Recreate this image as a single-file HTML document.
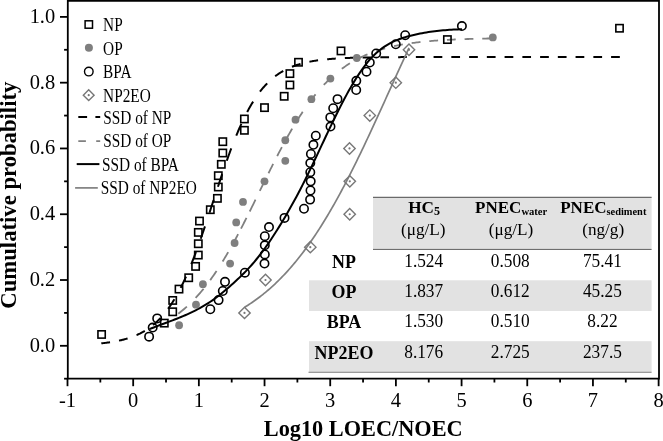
<!DOCTYPE html>
<html><head><meta charset="utf-8"><style>html,body{margin:0;padding:0;background:#fff;overflow:hidden}svg{display:block}</style></head>
<body><svg style="will-change:transform" width="663" height="441" viewBox="0 0 663 441">
<rect x="0" y="0" width="663" height="441" fill="#fff"/>
<rect x="373" y="197" width="278.6" height="51.2" fill="#e2e2e2"/>
<rect x="309" y="280.3" width="342.6" height="30.7" fill="#e2e2e2"/>
<rect x="309" y="341.2" width="342.6" height="30.6" fill="#e2e2e2"/>
<line x1="373" y1="197.3" x2="651.6" y2="197.3" stroke="#6a6a6a" stroke-width="1.3"/>
<line x1="373" y1="249.4" x2="651.6" y2="249.4" stroke="#6e6e6e" stroke-width="1.2"/>
<line x1="308.5" y1="372.3" x2="651.6" y2="372.3" stroke="#7a7a7a" stroke-width="1.1"/>
<path d="M101.30 343.35 L101.99 343.28 L102.68 343.20 L103.38 343.12 L104.07 343.04 L104.76 342.96 L105.45 342.88 L106.14 342.79 L106.83 342.70 L107.53 342.61 L108.22 342.52 L108.91 342.42 L109.60 342.32 L110.03 342.26 M119.03 340.64 L119.72 340.48 L120.41 340.33 L121.10 340.17 L121.79 340.00 L122.48 339.83 L123.18 339.66 L123.87 339.48 L124.56 339.30 L125.25 339.11 L125.94 338.91 L126.63 338.71 L127.33 338.50 L127.59 338.42 M136.49 335.15 L137.18 334.85 L137.87 334.53 L138.57 334.21 L139.26 333.88 L139.95 333.54 L140.64 333.18 L141.33 332.82 L142.02 332.46 L142.72 332.08 L143.41 331.69 L144.10 331.29 L144.79 330.87 L144.79 330.87 M153.09 325.01 L153.70 324.50 L154.30 323.99 L154.91 323.47 L155.51 322.93 L156.12 322.38 L156.72 321.82 L157.33 321.25 L157.93 320.66 L158.54 320.07 L159.14 319.46 L159.75 318.83 L160.36 318.20 L160.70 317.83 M168.05 308.87 L168.57 308.15 L169.09 307.42 L169.61 306.68 L170.13 305.93 L170.64 305.17 L171.16 304.39 L171.68 303.60 L172.20 302.80 L172.72 301.98 L173.24 301.16 L173.76 300.32 L174.28 299.46 L174.45 299.18 M180.67 287.87 L181.11 287.02 L181.54 286.15 L181.97 285.27 L182.40 284.39 L182.84 283.50 L183.27 282.59 L183.70 281.68 L184.13 280.76 L184.57 279.83 L185.00 278.88 L185.43 277.93 L185.86 276.97 L186.04 276.59 M191.31 264.10 L191.66 263.23 L192.00 262.36 L192.35 261.49 L192.69 260.61 L193.04 259.72 L193.38 258.83 L193.73 257.93 L194.08 257.03 L194.42 256.12 L194.77 255.21 L195.11 254.29 L195.46 253.37 L195.81 252.44 L195.98 251.98 M200.73 238.74 L201.08 237.74 L201.43 236.74 L201.77 235.74 L202.12 234.74 L202.46 233.73 L202.81 232.72 L203.16 231.71 L203.50 230.69 L203.85 229.67 L204.19 228.65 L204.54 227.62 L204.88 226.59 L204.97 226.33 M209.47 212.75 L209.81 211.69 L210.16 210.64 L210.50 209.58 L210.85 208.52 L211.20 207.46 L211.54 206.40 L211.89 205.34 L212.23 204.27 L212.58 203.21 L212.93 202.15 L213.27 201.09 L213.62 200.02 L213.62 200.02 M217.94 186.79 L218.29 185.74 L218.63 184.69 L218.98 183.65 L219.32 182.60 L219.67 181.56 L220.02 180.52 L220.36 179.48 L220.71 178.44 L221.05 177.41 L221.40 176.37 L221.74 175.34 L222.09 174.32 L222.18 174.06 M226.76 160.78 L227.11 159.80 L227.45 158.83 L227.80 157.86 L228.14 156.90 L228.49 155.94 L228.84 154.98 L229.18 154.03 L229.53 153.09 L229.87 152.15 L230.22 151.21 L230.56 150.28 L230.91 149.35 L231.26 148.43 L231.26 148.43 M236.27 135.65 L236.70 134.60 L237.14 133.56 L237.57 132.53 L238.00 131.51 L238.43 130.49 L238.86 129.49 L239.30 128.50 L239.73 127.51 L240.16 126.54 L240.59 125.57 L241.03 124.61 L241.37 123.85 M247.17 112.04 L247.60 111.22 L248.03 110.42 L248.46 109.62 L248.89 108.83 L249.33 108.06 L249.76 107.29 L250.19 106.53 L250.62 105.78 L251.06 105.04 L251.49 104.31 L251.92 103.58 L252.35 102.87 L252.79 102.16 L253.13 101.61 M259.96 91.71 L260.57 90.93 L261.17 90.17 L261.78 89.42 L262.38 88.69 L262.99 87.97 L263.59 87.27 L264.20 86.58 L264.80 85.90 L265.41 85.24 L266.01 84.59 L266.62 83.95 L267.14 83.42 M275.18 76.28 L275.79 75.82 L276.39 75.38 L277.00 74.94 L277.60 74.51 L278.21 74.09 L278.81 73.68 L279.42 73.28 L280.02 72.89 L280.63 72.51 L281.23 72.14 L281.84 71.77 L282.44 71.42 L283.05 71.07 L283.22 70.97 M291.95 66.79 L292.65 66.51 L293.34 66.25 L294.03 65.99 L294.72 65.74 L295.41 65.49 L296.10 65.25 L296.80 65.02 L297.49 64.80 L298.18 64.58 L298.87 64.36 L299.56 64.15 L300.25 63.95 L300.51 63.88 M309.42 61.75 L310.11 61.62 L310.80 61.49 L311.49 61.36 L312.19 61.24 L312.88 61.11 L313.57 61.00 L314.26 60.88 L314.95 60.77 L315.65 60.67 L316.34 60.56 L317.03 60.46 L317.72 60.36 L318.07 60.31 M327.15 59.27 L327.84 59.20 L328.53 59.14 L329.22 59.08 L329.91 59.02 L330.60 58.96 L331.30 58.91 L331.99 58.85 L332.68 58.80 L333.37 58.75 L334.06 58.70 L334.75 58.65 L335.45 58.60 L335.79 58.58 M344.87 58.09 L345.56 58.05 L346.25 58.02 L346.95 58.00 L347.64 57.97 L348.33 57.94 L349.02 57.91 L349.71 57.89 L350.40 57.86 L351.10 57.84 L351.79 57.82 L352.48 57.79 L353.17 57.77 L353.60 57.76 M362.60 57.53 L363.29 57.51 L363.98 57.50 L364.67 57.48 L365.36 57.47 L366.05 57.46 L366.75 57.44 L367.44 57.43 L368.13 57.42 L368.82 57.41 L369.51 57.40 L370.20 57.39 L370.90 57.38 L371.33 57.37 M380.32 57.26 L381.01 57.25 L381.70 57.25 L382.40 57.24 L383.09 57.23 L383.78 57.23 L384.47 57.22 L385.16 57.22 L385.85 57.21 L386.55 57.21 L387.24 57.20 L387.93 57.20 L388.62 57.19 L389.05 57.19 M398.13 57.14 L398.82 57.13 L399.52 57.13 L400.21 57.13 L400.90 57.12 L401.59 57.12 L402.28 57.12 L402.97 57.12 L403.67 57.11 L404.36 57.11 L405.05 57.11 L405.74 57.11 L406.43 57.10 L406.78 57.10 M415.86 57.08 L416.55 57.08 L417.24 57.07 L417.93 57.07 L418.62 57.07 L419.32 57.07 L420.01 57.07 L420.70 57.07 L421.39 57.07 L422.08 57.07 L422.77 57.06 L423.47 57.06 L424.16 57.06 L424.59 57.06 M433.58 57.05 L434.27 57.05 L434.97 57.05 L435.66 57.05 L436.35 57.05 L437.04 57.05 L437.73 57.05 L438.42 57.05 L439.12 57.05 L439.81 57.04 L440.50 57.04 L441.19 57.04 L441.88 57.04 L442.32 57.04 M451.31 57.04 L452.00 57.04 L452.69 57.04 L453.38 57.04 L454.07 57.04 L454.77 57.04 L455.46 57.04 L456.15 57.04 L456.84 57.03 L457.53 57.03 L458.23 57.03 L458.92 57.03 L459.61 57.03 L460.04 57.03 M469.12 57.03 L469.81 57.03 L470.50 57.03 L471.19 57.03 L471.89 57.03 L472.58 57.03 L473.27 57.03 L473.96 57.03 L474.65 57.03 L475.35 57.03 L476.04 57.03 L476.73 57.03 L477.42 57.03 L477.85 57.03 M486.84 57.03 L487.54 57.03 L488.23 57.03 L488.92 57.03 L489.61 57.03 L490.30 57.03 L491.00 57.03 L491.69 57.03 L492.38 57.03 L493.07 57.03 L493.76 57.03 L494.45 57.03 L495.15 57.03 L495.58 57.03 M504.57 57.03 L505.26 57.03 L505.95 57.03 L506.65 57.03 L507.34 57.03 L508.03 57.03 L508.72 57.03 L509.41 57.03 L510.10 57.03 L510.80 57.03 L511.49 57.03 L512.18 57.03 L512.87 57.03 L513.30 57.03 M522.38 57.03 L523.07 57.03 L523.77 57.03 L524.46 57.03 L525.15 57.03 L525.84 57.03 L526.53 57.03 L527.22 57.03 L527.92 57.03 L528.61 57.03 L529.30 57.03 L529.99 57.03 L530.68 57.03 L531.03 57.03 M540.11 57.03 L540.80 57.03 L541.49 57.03 L542.18 57.03 L542.87 57.03 L543.57 57.03 L544.26 57.03 L544.95 57.03 L545.64 57.03 L546.33 57.03 L547.02 57.03 L547.72 57.03 L548.41 57.03 L548.84 57.03 M557.83 57.03 L558.52 57.03 L559.22 57.03 L559.91 57.03 L560.60 57.03 L561.29 57.03 L561.98 57.03 L562.67 57.03 L563.37 57.03 L564.06 57.03 L564.75 57.03 L565.44 57.03 L566.13 57.03 L566.56 57.03 M575.56 57.03 L576.25 57.03 L576.94 57.03 L577.63 57.03 L578.32 57.03 L579.02 57.03 L579.71 57.03 L580.40 57.03 L581.09 57.03 L581.78 57.03 L582.47 57.03 L583.17 57.03 L583.86 57.03 L584.29 57.03 M593.37 57.03 L594.06 57.03 L594.75 57.03 L595.44 57.03 L596.14 57.03 L596.83 57.03 L597.52 57.03 L598.21 57.03 L598.90 57.03 L599.59 57.03 L600.29 57.03 L600.98 57.03 L601.67 57.03 L602.10 57.03 M611.09 57.03 L611.79 57.03 L612.48 57.03 L613.17 57.03 L613.86 57.03 L614.55 57.03 L615.24 57.03 L615.94 57.03 L616.63 57.03 L617.32 57.03 L618.01 57.03 L618.70 57.03 L619.39 57.03 L619.83 57.03 " fill="none" stroke="#000" stroke-width="2"/>
<path d="M178.30 313.73 L179.53 312.78 L180.76 311.81 L181.99 310.81 L183.21 309.78 L184.44 308.73 L185.67 307.66 L186.90 306.55 M195.60 297.94 L196.74 296.70 L197.89 295.44 L199.03 294.15 L200.17 292.83 L201.31 291.49 L202.46 290.12 L203.60 288.72 M210.20 280.12 L211.11 278.86 L212.03 277.58 L212.94 276.28 L213.86 274.96 L214.77 273.63 L215.69 272.28 L216.60 270.91 M222.60 261.52 L223.40 260.22 L224.20 258.90 L225.00 257.57 L225.80 256.23 L226.60 254.87 L227.40 253.50 L228.20 252.13 M232.00 245.42 L232.87 243.85 L233.74 242.27 L234.61 240.67 L235.49 239.06 L236.36 237.45 L237.23 235.82 L238.10 234.17 M241.00 228.64 L241.79 227.12 L242.57 225.60 L243.36 224.07 L244.14 222.53 L244.93 220.98 L245.71 219.43 L246.50 217.87 M249.70 211.48 L250.53 209.81 L251.36 208.14 L252.19 206.46 L253.01 204.78 L253.84 203.10 L254.67 201.41 L255.50 199.72 M259.80 190.94 L260.54 189.42 L261.29 187.91 L262.03 186.39 L262.77 184.87 L263.51 183.36 L264.26 181.85 L265.00 180.34 M268.50 173.25 L269.17 171.90 L269.84 170.55 L270.51 169.21 L271.19 167.87 L271.86 166.53 L272.53 165.20 L273.20 163.87 M277.20 156.04 L277.87 154.75 L278.54 153.46 L279.21 152.17 L279.89 150.89 L280.56 149.62 L281.23 148.35 L281.90 147.09 M285.50 140.45 L286.46 138.72 L287.41 137.00 L288.37 135.30 L289.33 133.62 L290.29 131.95 L291.24 130.30 L292.20 128.66 M295.50 123.15 L296.53 121.48 L297.56 119.82 L298.59 118.19 L299.61 116.58 L300.64 114.99 L301.67 113.42 L302.70 111.87 M309.50 102.20 L310.37 101.03 L311.24 99.87 L312.11 98.73 L312.99 97.61 L313.86 96.50 L314.73 95.41 L315.60 94.34 M323.80 84.97 L324.73 83.99 L325.66 83.03 L326.59 82.09 L327.51 81.16 L328.44 80.25 L329.37 79.36 L330.30 78.48 M341.80 68.85 L342.96 68.01 L344.11 67.18 L345.27 66.37 L346.43 65.59 L347.59 64.82 L348.74 64.07 L349.90 63.34 M358.70 58.37 L359.96 57.74 L361.21 57.13 L362.47 56.53 L363.73 55.95 L364.99 55.39 L366.24 54.85 L367.50 54.32 M376.35 51.00 L377.61 50.59 L378.86 50.18 L380.12 49.79 L381.38 49.41 L382.64 49.05 L383.89 48.69 L385.15 48.34 M394.00 46.19 L395.26 45.93 L396.51 45.67 L397.77 45.41 L399.03 45.17 L400.29 44.93 L401.54 44.70 L402.80 44.48 M411.65 43.10 L412.91 42.93 L414.16 42.77 L415.42 42.60 L416.68 42.45 L417.94 42.30 L419.19 42.15 L420.45 42.01 M429.30 41.14 L430.56 41.03 L431.81 40.92 L433.07 40.82 L434.33 40.72 L435.59 40.63 L436.84 40.53 L438.10 40.44 M446.95 39.89 L448.21 39.82 L449.46 39.76 L450.72 39.69 L451.98 39.63 L453.24 39.57 L454.49 39.51 L455.75 39.45 M464.60 39.11 L465.86 39.06 L467.11 39.02 L468.37 38.98 L469.63 38.94 L470.89 38.90 L472.14 38.87 L473.40 38.83 M482.25 38.61 L483.51 38.59 L484.76 38.56 L486.02 38.53 L487.28 38.51 L488.54 38.49 L489.79 38.46 L491.05 38.44 " fill="none" stroke="#808080" stroke-width="1.8"/>
<path d="M149.50 329.11 L151.60 328.27 L153.69 327.45 L155.79 326.65 L157.89 325.85 L159.99 325.06 L162.08 324.28 L164.18 323.49 L166.28 322.71 L168.38 321.93 L170.47 321.14 L172.57 320.34 L174.67 319.53 L176.77 318.71 L178.86 317.87 L180.96 317.02 L183.06 316.14 L185.15 315.24 L187.25 314.32 L189.35 313.37 L191.45 312.39 L193.54 311.37 L195.64 310.32 L197.74 309.23 L199.84 308.10 L201.93 306.92 L204.03 305.70 L206.13 304.43 L208.22 303.11 L210.32 301.74 L212.42 300.31 L214.52 298.82 L216.61 297.27 L218.71 295.68 L220.81 294.02 L222.91 292.33 L225.00 290.58 L227.10 288.80 L229.20 286.98 L231.30 285.12 L233.39 283.22 L235.49 281.30 L237.59 279.35 L239.68 277.36 L241.78 275.32 L243.88 273.24 L245.98 271.09 L248.07 268.88 L250.17 266.60 L252.27 264.24 L254.37 261.79 L256.46 259.26 L258.56 256.64 L260.66 253.94 L262.76 251.15 L264.85 248.28 L266.95 245.34 L269.05 242.32 L271.14 239.22 L273.24 236.05 L275.34 232.82 L277.44 229.51 L279.53 226.14 L281.63 222.71 L283.73 219.21 L285.83 215.65 L287.92 212.04 L290.02 208.35 L292.12 204.61 L294.21 200.80 L296.31 196.92 L298.41 192.97 L300.51 188.95 L302.60 184.86 L304.70 180.69 L306.80 176.46 L308.90 172.16 L310.99 167.83 L313.09 163.44 L315.19 159.03 L317.29 154.59 L319.38 150.14 L321.48 145.68 L323.58 141.22 L325.67 136.77 L327.77 132.34 L329.87 127.93 L331.97 123.56 L334.06 119.23 L336.16 114.95 L338.26 110.74 L340.36 106.59 L342.45 102.52 L344.55 98.53 L346.65 94.64 L348.74 90.85 L350.84 87.16 L352.94 83.59 L355.04 80.13 L357.13 76.79 L359.23 73.58 L361.33 70.51 L363.43 67.58 L365.52 64.80 L367.62 62.17 L369.72 59.70 L371.82 57.40 L373.91 55.25 L376.01 53.26 L378.11 51.41 L380.20 49.70 L382.30 48.12 L384.40 46.66 L386.50 45.32 L388.59 44.08 L390.69 42.95 L392.79 41.90 L394.89 40.95 L396.98 40.07 L399.08 39.25 L401.18 38.51 L403.28 37.81 L405.37 37.16 L407.47 36.56 L409.57 35.99 L411.66 35.44 L413.76 34.93 L415.86 34.45 L417.96 33.99 L420.05 33.56 L422.15 33.16 L424.25 32.78 L426.35 32.43 L428.44 32.10 L430.54 31.79 L432.64 31.50 L434.73 31.24 L436.83 30.99 L438.93 30.76 L441.03 30.55 L443.12 30.36 L445.22 30.18 L447.32 30.01 L449.42 29.86 L451.51 29.73 L453.61 29.60 L455.71 29.48 L457.81 29.38 L459.90 29.28 L462.00 29.19" fill="none" stroke="#000" stroke-width="2"/>
<path d="M244.80 307.21 L246.18 306.34 L247.56 305.47 L248.94 304.57 L250.32 303.66 L251.70 302.72 L253.08 301.77 L254.46 300.80 L255.84 299.81 L257.22 298.80 L258.60 297.77 L259.98 296.72 L261.36 295.65 L262.74 294.56 L264.12 293.45 L265.50 292.32 L266.88 291.16 L268.26 289.98 L269.64 288.79 L271.02 287.56 L272.40 286.32 L273.78 285.05 L275.16 283.76 L276.54 282.45 L277.92 281.11 L279.30 279.75 L280.68 278.37 L282.06 276.96 L283.44 275.52 L284.82 274.06 L286.19 272.57 L287.57 271.06 L288.95 269.53 L290.33 267.96 L291.71 266.38 L293.09 264.76 L294.47 263.12 L295.85 261.45 L297.23 259.75 L298.61 258.03 L299.99 256.28 L301.37 254.51 L302.75 252.70 L304.13 250.87 L305.51 249.01 L306.89 247.12 L308.27 245.21 L309.65 243.27 L311.03 241.29 L312.41 239.30 L313.79 237.27 L315.17 235.21 L316.55 233.13 L317.93 231.02 L319.31 228.88 L320.69 226.71 L322.07 224.52 L323.45 222.30 L324.83 220.05 L326.21 217.77 L327.59 215.47 L328.97 213.14 L330.35 210.78 L331.73 208.40 L333.11 205.98 L334.49 203.55 L335.87 201.08 L337.25 198.60 L338.63 196.08 L340.01 193.54 L341.39 190.98 L342.77 188.39 L344.15 185.78 L345.53 183.15 L346.91 180.49 L348.29 177.81 L349.67 175.11 L351.05 172.39 L352.43 169.65 L353.81 166.88 L355.19 164.10 L356.57 161.30 L357.95 158.47 L359.33 155.64 L360.71 152.78 L362.09 149.91 L363.47 147.02 L364.85 144.11 L366.23 141.20 L367.61 138.26 L368.98 135.32 L370.36 132.36 L371.74 129.39 L373.12 126.41 L374.50 123.42 L375.88 120.42 L377.26 117.42 L378.64 114.40 L380.02 111.38 L381.40 108.36 L382.78 105.32 L384.16 102.29 L385.54 99.25 L386.92 96.21 L388.30 93.17 L389.68 90.12 L391.06 87.08 L392.44 84.04 L393.82 81.00 L395.20 77.96 L396.58 74.93 L397.96 71.90 L399.34 68.88 L400.72 65.86 L402.10 62.85 L403.48 59.85 L404.86 56.86 L406.24 53.87 L407.62 50.90 L409.00 47.94" fill="none" stroke="#808080" stroke-width="1.7"/>
<rect x="97.95" y="330.81" width="7.30" height="7.30" fill="none" stroke="#000" stroke-width="1.60"/>
<rect x="160.65" y="319.47" width="7.30" height="7.30" fill="none" stroke="#000" stroke-width="1.60"/>
<rect x="169.05" y="308.13" width="7.30" height="7.30" fill="none" stroke="#000" stroke-width="1.60"/>
<rect x="169.05" y="296.78" width="7.30" height="7.30" fill="none" stroke="#000" stroke-width="1.60"/>
<rect x="175.35" y="285.44" width="7.30" height="7.30" fill="none" stroke="#000" stroke-width="1.60"/>
<rect x="185.05" y="274.10" width="7.30" height="7.30" fill="none" stroke="#000" stroke-width="1.60"/>
<rect x="191.95" y="262.76" width="7.30" height="7.30" fill="none" stroke="#000" stroke-width="1.60"/>
<rect x="194.65" y="251.42" width="7.30" height="7.30" fill="none" stroke="#000" stroke-width="1.60"/>
<rect x="194.65" y="240.08" width="7.30" height="7.30" fill="none" stroke="#000" stroke-width="1.60"/>
<rect x="194.65" y="228.74" width="7.30" height="7.30" fill="none" stroke="#000" stroke-width="1.60"/>
<rect x="195.85" y="217.39" width="7.30" height="7.30" fill="none" stroke="#000" stroke-width="1.60"/>
<rect x="206.65" y="206.05" width="7.30" height="7.30" fill="none" stroke="#000" stroke-width="1.60"/>
<rect x="213.75" y="194.71" width="7.30" height="7.30" fill="none" stroke="#000" stroke-width="1.60"/>
<rect x="214.65" y="183.37" width="7.30" height="7.30" fill="none" stroke="#000" stroke-width="1.60"/>
<rect x="214.65" y="172.03" width="7.30" height="7.30" fill="none" stroke="#000" stroke-width="1.60"/>
<rect x="217.65" y="160.69" width="7.30" height="7.30" fill="none" stroke="#000" stroke-width="1.60"/>
<rect x="219.15" y="149.35" width="7.30" height="7.30" fill="none" stroke="#000" stroke-width="1.60"/>
<rect x="219.15" y="138.01" width="7.30" height="7.30" fill="none" stroke="#000" stroke-width="1.60"/>
<rect x="240.75" y="126.66" width="7.30" height="7.30" fill="none" stroke="#000" stroke-width="1.60"/>
<rect x="240.75" y="115.32" width="7.30" height="7.30" fill="none" stroke="#000" stroke-width="1.60"/>
<rect x="260.85" y="103.98" width="7.30" height="7.30" fill="none" stroke="#000" stroke-width="1.60"/>
<rect x="280.55" y="92.64" width="7.30" height="7.30" fill="none" stroke="#000" stroke-width="1.60"/>
<rect x="286.25" y="81.30" width="7.30" height="7.30" fill="none" stroke="#000" stroke-width="1.60"/>
<rect x="286.25" y="69.96" width="7.30" height="7.30" fill="none" stroke="#000" stroke-width="1.60"/>
<rect x="294.85" y="58.62" width="7.30" height="7.30" fill="none" stroke="#000" stroke-width="1.60"/>
<rect x="337.35" y="47.27" width="7.30" height="7.30" fill="none" stroke="#000" stroke-width="1.60"/>
<rect x="443.75" y="35.93" width="7.30" height="7.30" fill="none" stroke="#000" stroke-width="1.60"/>
<rect x="615.85" y="24.59" width="7.30" height="7.30" fill="none" stroke="#000" stroke-width="1.60"/>
<circle cx="179.10" cy="325.24" r="3.90" fill="#7f7f7f"/>
<circle cx="196.00" cy="304.69" r="3.90" fill="#7f7f7f"/>
<circle cx="202.90" cy="284.13" r="3.90" fill="#7f7f7f"/>
<circle cx="230.10" cy="263.58" r="3.90" fill="#7f7f7f"/>
<circle cx="234.60" cy="243.02" r="3.90" fill="#7f7f7f"/>
<circle cx="236.20" cy="222.46" r="3.90" fill="#7f7f7f"/>
<circle cx="243.00" cy="201.91" r="3.90" fill="#7f7f7f"/>
<circle cx="264.50" cy="181.35" r="3.90" fill="#7f7f7f"/>
<circle cx="285.30" cy="160.79" r="3.90" fill="#7f7f7f"/>
<circle cx="285.30" cy="140.24" r="3.90" fill="#7f7f7f"/>
<circle cx="295.50" cy="119.68" r="3.90" fill="#7f7f7f"/>
<circle cx="311.40" cy="99.13" r="3.90" fill="#7f7f7f"/>
<circle cx="330.40" cy="78.57" r="3.90" fill="#7f7f7f"/>
<circle cx="356.80" cy="58.01" r="3.90" fill="#7f7f7f"/>
<circle cx="492.80" cy="37.46" r="3.90" fill="#7f7f7f"/>
<circle cx="149.10" cy="336.66" r="4.20" fill="none" stroke="#000" stroke-width="1.60"/>
<circle cx="152.70" cy="327.53" r="4.20" fill="none" stroke="#000" stroke-width="1.60"/>
<circle cx="157.20" cy="318.39" r="4.20" fill="none" stroke="#000" stroke-width="1.60"/>
<circle cx="210.30" cy="309.26" r="4.20" fill="none" stroke="#000" stroke-width="1.60"/>
<circle cx="218.60" cy="300.12" r="4.20" fill="none" stroke="#000" stroke-width="1.60"/>
<circle cx="222.80" cy="290.98" r="4.20" fill="none" stroke="#000" stroke-width="1.60"/>
<circle cx="225.00" cy="281.85" r="4.20" fill="none" stroke="#000" stroke-width="1.60"/>
<circle cx="244.90" cy="272.71" r="4.20" fill="none" stroke="#000" stroke-width="1.60"/>
<circle cx="264.50" cy="263.58" r="4.20" fill="none" stroke="#000" stroke-width="1.60"/>
<circle cx="264.80" cy="254.44" r="4.20" fill="none" stroke="#000" stroke-width="1.60"/>
<circle cx="264.80" cy="245.30" r="4.20" fill="none" stroke="#000" stroke-width="1.60"/>
<circle cx="264.80" cy="236.17" r="4.20" fill="none" stroke="#000" stroke-width="1.60"/>
<circle cx="269.00" cy="227.03" r="4.20" fill="none" stroke="#000" stroke-width="1.60"/>
<circle cx="284.50" cy="217.89" r="4.20" fill="none" stroke="#000" stroke-width="1.60"/>
<circle cx="304.00" cy="208.76" r="4.20" fill="none" stroke="#000" stroke-width="1.60"/>
<circle cx="310.10" cy="199.62" r="4.20" fill="none" stroke="#000" stroke-width="1.60"/>
<circle cx="310.50" cy="190.49" r="4.20" fill="none" stroke="#000" stroke-width="1.60"/>
<circle cx="310.70" cy="181.35" r="4.20" fill="none" stroke="#000" stroke-width="1.60"/>
<circle cx="310.30" cy="172.21" r="4.20" fill="none" stroke="#000" stroke-width="1.60"/>
<circle cx="310.30" cy="163.08" r="4.20" fill="none" stroke="#000" stroke-width="1.60"/>
<circle cx="310.90" cy="153.94" r="4.20" fill="none" stroke="#000" stroke-width="1.60"/>
<circle cx="313.40" cy="144.81" r="4.20" fill="none" stroke="#000" stroke-width="1.60"/>
<circle cx="315.80" cy="135.67" r="4.20" fill="none" stroke="#000" stroke-width="1.60"/>
<circle cx="330.50" cy="126.53" r="4.20" fill="none" stroke="#000" stroke-width="1.60"/>
<circle cx="330.30" cy="117.40" r="4.20" fill="none" stroke="#000" stroke-width="1.60"/>
<circle cx="333.20" cy="108.26" r="4.20" fill="none" stroke="#000" stroke-width="1.60"/>
<circle cx="337.50" cy="99.13" r="4.20" fill="none" stroke="#000" stroke-width="1.60"/>
<circle cx="356.20" cy="89.99" r="4.20" fill="none" stroke="#000" stroke-width="1.60"/>
<circle cx="356.30" cy="80.85" r="4.20" fill="none" stroke="#000" stroke-width="1.60"/>
<circle cx="366.50" cy="71.72" r="4.20" fill="none" stroke="#000" stroke-width="1.60"/>
<circle cx="369.80" cy="62.58" r="4.20" fill="none" stroke="#000" stroke-width="1.60"/>
<circle cx="376.20" cy="53.44" r="4.20" fill="none" stroke="#000" stroke-width="1.60"/>
<circle cx="395.80" cy="44.31" r="4.20" fill="none" stroke="#000" stroke-width="1.60"/>
<circle cx="405.20" cy="35.17" r="4.20" fill="none" stroke="#000" stroke-width="1.60"/>
<circle cx="461.90" cy="26.04" r="4.20" fill="none" stroke="#000" stroke-width="1.60"/>
<path d="M244.50 307.21L250.20 312.91L244.50 318.61L238.80 312.91Z" fill="none" stroke="#777" stroke-width="1.40"/><circle cx="244.50" cy="312.91" r="1.1" fill="#777"/>
<path d="M265.50 274.32L271.20 280.02L265.50 285.72L259.80 280.02Z" fill="none" stroke="#777" stroke-width="1.40"/><circle cx="265.50" cy="280.02" r="1.1" fill="#777"/>
<path d="M310.30 241.43L316.00 247.13L310.30 252.83L304.60 247.13Z" fill="none" stroke="#777" stroke-width="1.40"/><circle cx="310.30" cy="247.13" r="1.1" fill="#777"/>
<path d="M349.70 208.54L355.40 214.24L349.70 219.94L344.00 214.24Z" fill="none" stroke="#777" stroke-width="1.40"/><circle cx="349.70" cy="214.24" r="1.1" fill="#777"/>
<path d="M349.80 175.65L355.50 181.35L349.80 187.05L344.10 181.35Z" fill="none" stroke="#777" stroke-width="1.40"/><circle cx="349.80" cy="181.35" r="1.1" fill="#777"/>
<path d="M349.50 142.76L355.20 148.46L349.50 154.16L343.80 148.46Z" fill="none" stroke="#777" stroke-width="1.40"/><circle cx="349.50" cy="148.46" r="1.1" fill="#777"/>
<path d="M369.80 109.87L375.50 115.57L369.80 121.27L364.10 115.57Z" fill="none" stroke="#777" stroke-width="1.40"/><circle cx="369.80" cy="115.57" r="1.1" fill="#777"/>
<path d="M395.80 76.98L401.50 82.68L395.80 88.38L390.10 82.68Z" fill="none" stroke="#777" stroke-width="1.40"/><circle cx="395.80" cy="82.68" r="1.1" fill="#777"/>
<path d="M409.00 44.09L414.70 49.79L409.00 55.49L403.30 49.79Z" fill="none" stroke="#777" stroke-width="1.40"/><circle cx="409.00" cy="49.79" r="1.1" fill="#777"/>
<path d="M67.8 0.8 H659 V378.7 H67.8 Z" fill="none" stroke="#000" stroke-width="1.8"/>
<line x1="64.10" y1="378.69" x2="67.8" y2="378.69" stroke="#000" stroke-width="1.8"/>
<line x1="60.00" y1="345.80" x2="67.8" y2="345.80" stroke="#000" stroke-width="1.8"/>
<line x1="64.10" y1="312.91" x2="67.8" y2="312.91" stroke="#000" stroke-width="1.8"/>
<line x1="60.00" y1="280.02" x2="67.8" y2="280.02" stroke="#000" stroke-width="1.8"/>
<line x1="64.10" y1="247.13" x2="67.8" y2="247.13" stroke="#000" stroke-width="1.8"/>
<line x1="60.00" y1="214.24" x2="67.8" y2="214.24" stroke="#000" stroke-width="1.8"/>
<line x1="64.10" y1="181.35" x2="67.8" y2="181.35" stroke="#000" stroke-width="1.8"/>
<line x1="60.00" y1="148.46" x2="67.8" y2="148.46" stroke="#000" stroke-width="1.8"/>
<line x1="64.10" y1="115.57" x2="67.8" y2="115.57" stroke="#000" stroke-width="1.8"/>
<line x1="60.00" y1="82.68" x2="67.8" y2="82.68" stroke="#000" stroke-width="1.8"/>
<line x1="64.10" y1="49.79" x2="67.8" y2="49.79" stroke="#000" stroke-width="1.8"/>
<line x1="60.00" y1="16.90" x2="67.8" y2="16.90" stroke="#000" stroke-width="1.8"/>
<line x1="67.50" y1="378.7" x2="67.50" y2="386.20" stroke="#000" stroke-width="1.8"/>
<line x1="100.34" y1="378.7" x2="100.34" y2="382.50" stroke="#000" stroke-width="1.8"/>
<line x1="133.18" y1="378.7" x2="133.18" y2="386.20" stroke="#000" stroke-width="1.8"/>
<line x1="166.02" y1="378.7" x2="166.02" y2="382.50" stroke="#000" stroke-width="1.8"/>
<line x1="198.86" y1="378.7" x2="198.86" y2="386.20" stroke="#000" stroke-width="1.8"/>
<line x1="231.70" y1="378.7" x2="231.70" y2="382.50" stroke="#000" stroke-width="1.8"/>
<line x1="264.54" y1="378.7" x2="264.54" y2="386.20" stroke="#000" stroke-width="1.8"/>
<line x1="297.38" y1="378.7" x2="297.38" y2="382.50" stroke="#000" stroke-width="1.8"/>
<line x1="330.22" y1="378.7" x2="330.22" y2="386.20" stroke="#000" stroke-width="1.8"/>
<line x1="363.06" y1="378.7" x2="363.06" y2="382.50" stroke="#000" stroke-width="1.8"/>
<line x1="395.90" y1="378.7" x2="395.90" y2="386.20" stroke="#000" stroke-width="1.8"/>
<line x1="428.74" y1="378.7" x2="428.74" y2="382.50" stroke="#000" stroke-width="1.8"/>
<line x1="461.58" y1="378.7" x2="461.58" y2="386.20" stroke="#000" stroke-width="1.8"/>
<line x1="494.42" y1="378.7" x2="494.42" y2="382.50" stroke="#000" stroke-width="1.8"/>
<line x1="527.26" y1="378.7" x2="527.26" y2="386.20" stroke="#000" stroke-width="1.8"/>
<line x1="560.10" y1="378.7" x2="560.10" y2="382.50" stroke="#000" stroke-width="1.8"/>
<line x1="592.94" y1="378.7" x2="592.94" y2="386.20" stroke="#000" stroke-width="1.8"/>
<line x1="625.78" y1="378.7" x2="625.78" y2="382.50" stroke="#000" stroke-width="1.8"/>
<line x1="658.62" y1="378.7" x2="658.62" y2="386.20" stroke="#000" stroke-width="1.8"/>
<text transform="translate(55.2,351.70) scale(0.93,1)" font-family="Liberation Serif" font-size="22" text-anchor="end">0.0</text>
<text transform="translate(55.2,285.92) scale(0.93,1)" font-family="Liberation Serif" font-size="22" text-anchor="end">0.2</text>
<text transform="translate(55.2,220.14) scale(0.93,1)" font-family="Liberation Serif" font-size="22" text-anchor="end">0.4</text>
<text transform="translate(55.2,154.36) scale(0.93,1)" font-family="Liberation Serif" font-size="22" text-anchor="end">0.6</text>
<text transform="translate(55.2,88.58) scale(0.93,1)" font-family="Liberation Serif" font-size="22" text-anchor="end">0.8</text>
<text transform="translate(55.2,22.80) scale(0.93,1)" font-family="Liberation Serif" font-size="22" text-anchor="end">1.0</text>
<text transform="translate(67.50,406.8) scale(0.93,1)" font-family="Liberation Serif" font-size="22" text-anchor="middle">-1</text>
<text transform="translate(133.18,406.8) scale(0.93,1)" font-family="Liberation Serif" font-size="22" text-anchor="middle">0</text>
<text transform="translate(198.86,406.8) scale(0.93,1)" font-family="Liberation Serif" font-size="22" text-anchor="middle">1</text>
<text transform="translate(264.54,406.8) scale(0.93,1)" font-family="Liberation Serif" font-size="22" text-anchor="middle">2</text>
<text transform="translate(330.22,406.8) scale(0.93,1)" font-family="Liberation Serif" font-size="22" text-anchor="middle">3</text>
<text transform="translate(395.90,406.8) scale(0.93,1)" font-family="Liberation Serif" font-size="22" text-anchor="middle">4</text>
<text transform="translate(461.58,406.8) scale(0.93,1)" font-family="Liberation Serif" font-size="22" text-anchor="middle">5</text>
<text transform="translate(527.26,406.8) scale(0.93,1)" font-family="Liberation Serif" font-size="22" text-anchor="middle">6</text>
<text transform="translate(592.94,406.8) scale(0.93,1)" font-family="Liberation Serif" font-size="22" text-anchor="middle">7</text>
<text transform="translate(658.62,406.8) scale(0.93,1)" font-family="Liberation Serif" font-size="22" text-anchor="middle">8</text>
<text x="363.2" y="436.1" font-family="Liberation Serif" font-size="22.3" font-weight="bold" text-anchor="middle">Log10 LOEC/NOEC</text>
<text transform="translate(16.0,195.15) rotate(-90)" x="0" y="0" font-family="Liberation Serif" font-size="23" font-weight="bold" text-anchor="middle" textLength="227" lengthAdjust="spacingAndGlyphs">Cumulative probability</text>
<rect x="85.10" y="20.80" width="7.40" height="7.40" fill="none" stroke="#000" stroke-width="1.50"/>
<text transform="translate(103.10,31.00) scale(0.785,1)" font-family="Liberation Serif" font-size="19.5">NP</text>
<circle cx="88.90" cy="47.85" r="4.00" fill="#7f7f7f"/>
<text transform="translate(103.10,54.60) scale(0.785,1)" font-family="Liberation Serif" font-size="19.5">OP</text>
<circle cx="88.80" cy="71.60" r="4.30" fill="none" stroke="#000" stroke-width="1.40"/>
<text transform="translate(103.10,78.30) scale(0.785,1)" font-family="Liberation Serif" font-size="19.5">BPA</text>
<path d="M88.70 89.80L94.10 95.20L88.70 100.60L83.30 95.20Z" fill="none" stroke="#777" stroke-width="1.40"/><circle cx="88.70" cy="95.20" r="1.1" fill="#777"/>
<text transform="translate(103.10,101.80) scale(0.785,1)" font-family="Liberation Serif" font-size="19.5">NP2EO</text>
<line x1="78.3" y1="117.1" x2="100.2" y2="117.1" stroke="#000" stroke-width="2" stroke-dasharray="8.8 8.3"/>
<text transform="translate(103.30,123.90) scale(0.785,1)" font-family="Liberation Serif" font-size="19.5">SSD of NP</text>
<line x1="78.3" y1="141.1" x2="100.2" y2="141.1" stroke="#808080" stroke-width="1.8" stroke-dasharray="7.6 10.3"/>
<text transform="translate(103.30,147.10) scale(0.785,1)" font-family="Liberation Serif" font-size="19.5">SSD of OP</text>
<line x1="76.7" y1="164.1" x2="99.4" y2="164.1" stroke="#000" stroke-width="2"/>
<text transform="translate(102.00,170.50) scale(0.785,1)" font-family="Liberation Serif" font-size="19.5">SSD of BPA</text>
<line x1="75.1" y1="187.9" x2="97.8" y2="187.9" stroke="#808080" stroke-width="1.7"/>
<text transform="translate(100.80,194.00) scale(0.785,1)" font-family="Liberation Serif" font-size="19.5">SSD of NP2EO</text>
<text x="424.1" y="213.3" font-family="Liberation Serif" font-size="17.2" font-weight="bold" text-anchor="middle">HC<tspan font-size="12" dy="1.6">5</tspan></text>
<text x="423.30" y="235.20" font-family="Liberation Serif" font-size="17.2" text-anchor="middle">(μg/L)</text>
<text x="511.2" y="213.3" font-family="Liberation Serif" font-size="17" font-weight="bold" text-anchor="middle">PNEC<tspan font-size="10.6" dy="1.2">water</tspan></text>
<text x="511.00" y="235.20" font-family="Liberation Serif" font-size="17.2" text-anchor="middle">(μg/L)</text>
<text x="603.3" y="213.3" font-family="Liberation Serif" font-size="17" font-weight="bold" text-anchor="middle">PNEC<tspan font-size="10.4" dy="1.2">sediment</tspan></text>
<text x="603.20" y="235.20" font-family="Liberation Serif" font-size="17.2" text-anchor="middle">(ng/g)</text>
<text transform="translate(344.00,267.50) scale(0.970,1)" font-family="Liberation Serif" font-size="18.5" text-anchor="middle" font-weight="bold">NP</text>
<text transform="translate(423.70,266.50) scale(0.945,1)" font-family="Liberation Serif" font-size="18.3" text-anchor="middle">1.524</text>
<text transform="translate(510.30,266.50) scale(0.945,1)" font-family="Liberation Serif" font-size="18.3" text-anchor="middle">0.508</text>
<text transform="translate(602.40,266.50) scale(0.945,1)" font-family="Liberation Serif" font-size="18.3" text-anchor="middle">75.41</text>
<text transform="translate(344.00,297.90) scale(0.970,1)" font-family="Liberation Serif" font-size="18.5" text-anchor="middle" font-weight="bold">OP</text>
<text transform="translate(423.70,296.90) scale(0.945,1)" font-family="Liberation Serif" font-size="18.3" text-anchor="middle">1.837</text>
<text transform="translate(510.30,296.90) scale(0.945,1)" font-family="Liberation Serif" font-size="18.3" text-anchor="middle">0.612</text>
<text transform="translate(602.40,296.90) scale(0.945,1)" font-family="Liberation Serif" font-size="18.3" text-anchor="middle">45.25</text>
<text transform="translate(344.00,328.30) scale(0.970,1)" font-family="Liberation Serif" font-size="18.5" text-anchor="middle" font-weight="bold">BPA</text>
<text transform="translate(423.70,327.30) scale(0.945,1)" font-family="Liberation Serif" font-size="18.3" text-anchor="middle">1.530</text>
<text transform="translate(510.30,327.30) scale(0.945,1)" font-family="Liberation Serif" font-size="18.3" text-anchor="middle">0.510</text>
<text transform="translate(602.40,327.30) scale(0.945,1)" font-family="Liberation Serif" font-size="18.3" text-anchor="middle">8.22</text>
<text transform="translate(344.00,358.70) scale(0.970,1)" font-family="Liberation Serif" font-size="18.5" text-anchor="middle" font-weight="bold">NP2EO</text>
<text transform="translate(423.70,357.70) scale(0.945,1)" font-family="Liberation Serif" font-size="18.3" text-anchor="middle">8.176</text>
<text transform="translate(510.30,357.70) scale(0.945,1)" font-family="Liberation Serif" font-size="18.3" text-anchor="middle">2.725</text>
<text transform="translate(602.40,357.70) scale(0.945,1)" font-family="Liberation Serif" font-size="18.3" text-anchor="middle">237.5</text>
</svg></body></html>
